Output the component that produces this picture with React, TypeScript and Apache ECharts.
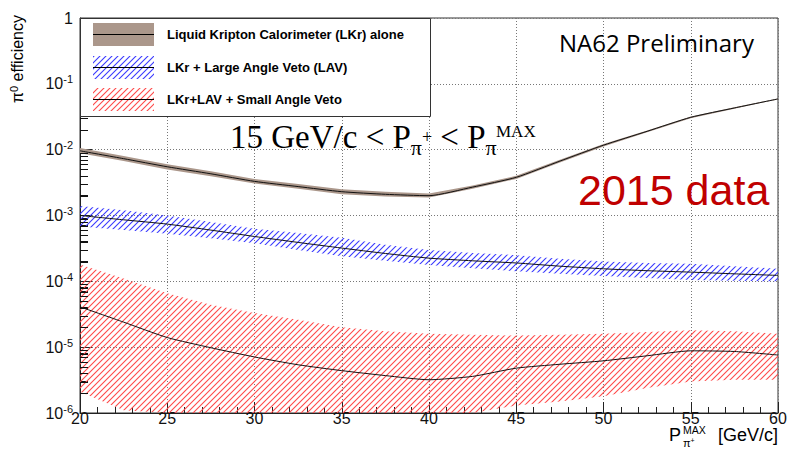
import React, { useEffect, useRef } from "react";
import * as echarts from "echarts";

// P_pi^MAX [GeV/c]
const pMax = [20, 22.5, 25, 27.5, 30, 32.5, 35, 37.5, 40, 42.5, 45, 47.5, 50, 52.5, 55, 57.5, 60];

// Liquid Kripton Calorimeter (LKr) alone
const lkrCentral = [9.6e-3, 7.3e-3, 5.5e-3, 4.3e-3, 3.3e-3, 2.75e-3, 2.3e-3, 2.1e-3, 2.0e-3, 2.7e-3, 3.8e-3, 6.7e-3, 1.17e-2, 1.9e-2, 3.1e-2, 4.3e-2, 5.9e-2];
const lkrHigh = [1.06e-2, 8.0e-3, 6.0e-3, 4.7e-3, 3.6e-3, 3.0e-3, 2.5e-3, 2.3e-3, 2.15e-3, 2.85e-3, 4.0e-3, 7.0e-3, 1.22e-2, 1.96e-2, 3.2e-2, 4.4e-2, 6.0e-2];
const lkrLow = [8.8e-3, 6.7e-3, 5.0e-3, 3.95e-3, 3.05e-3, 2.55e-3, 2.1e-3, 1.95e-3, 1.88e-3, 2.55e-3, 3.6e-3, 6.4e-3, 1.12e-2, 1.84e-2, 3.0e-2, 4.2e-2, 5.8e-2];

// LKr + Large Angle Veto (LAV)
const lavCentral = [1.0e-3, 8.6e-4, 7.4e-4, 6.0e-4, 4.8e-4, 3.9e-4, 3.2e-4, 2.65e-4, 2.25e-4, 2.05e-4, 1.9e-4, 1.7e-4, 1.55e-4, 1.45e-4, 1.38e-4, 1.3e-4, 1.23e-4];
const lavHigh = [1.4e-3, 1.2e-3, 1.0e-3, 8.0e-4, 6.3e-4, 5.4e-4, 4.6e-4, 3.6e-4, 3.0e-4, 2.7e-4, 2.5e-4, 2.2e-4, 2.0e-4, 1.9e-4, 1.85e-4, 1.7e-4, 1.55e-4];
const lavLow = [6.8e-4, 6.0e-4, 5.3e-4, 4.5e-4, 3.8e-4, 3.0e-4, 2.4e-4, 2.05e-4, 1.77e-4, 1.58e-4, 1.42e-4, 1.3e-4, 1.2e-4, 1.12e-4, 1.05e-4, 1.02e-4, 1.0e-4];

// LKr+LAV + Small Angle Veto
const savCentral = [4.1e-5, 2.4e-5, 1.4e-5, 9.8e-6, 7.1e-6, 5.4e-6, 4.4e-6, 3.7e-6, 3.2e-6, 3.6e-6, 4.8e-6, 5.5e-6, 6.2e-6, 7.4e-6, 8.8e-6, 8.6e-6, 7.6e-6];
const savHigh = [1.8e-4, 1.1e-4, 6.6e-5, 4.4e-5, 3.3e-5, 2.6e-5, 2.0e-5, 1.75e-5, 1.6e-5, 1.55e-5, 1.5e-5, 1.55e-5, 1.6e-5, 1.7e-5, 1.8e-5, 1.75e-5, 1.6e-5];
const savLow = [2.1e-6, 1.1e-6, 7e-7, 5.5e-7, 4.5e-7, 4e-7, 3.5e-7, 3.5e-7, 4e-7, 7e-7, 1.3e-6, 1.5e-6, 1.8e-6, 2.4e-6, 3.0e-6, 3.2e-6, 3.2e-6];

const legendLabels = [
  "Liquid Kripton Calorimeter (LKr) alone",
  "LKr + Large Angle Veto (LAV)",
  "LKr+LAV + Small Angle Veto",
];

// log-axis minor tick positions: 2..9 x 10^d
const yMinorTicks: number[] = [];
for (let d = -6; d < 0; d++) {
  for (let k = 2; k <= 9; k++) yMinorTicks.push(parseFloat((k * Math.pow(10, d)).toPrecision(3)));
}

const SANS = "'Liberation Sans', Arial, Helvetica, sans-serif";
const SERIF = "'Liberation Serif', 'Times New Roman', serif";
const BROWN = "#ab978b";
const AXIS = "#222";

function makeHatch(color: string) {
  const s = 6;
  const c = document.createElement("canvas");
  c.width = s;
  c.height = s;
  const ctx = c.getContext("2d")!;
  ctx.strokeStyle = color;
  ctx.lineWidth = 1.1;
  ctx.beginPath();
  ctx.moveTo(0, s);
  ctx.lineTo(s, 0);
  ctx.moveTo(-1, 1);
  ctx.lineTo(1, -1);
  ctx.moveTo(s - 1, s + 1);
  ctx.lineTo(s + 1, s - 1);
  ctx.stroke();
  return { image: c, repeat: "repeat", imageWidth: s, imageHeight: s } as any;
}

function bandSeries(name: string, low: number[], high: number[], fill: any, z: number) {
  return {
    name,
    type: "custom",
    coordinateSystem: "cartesian2d",
    silent: true,
    z,
    encode: { x: 0, y: [1, 2] },
    data: pMax.map((x, i) => [x, low[i], high[i]]),
    renderItem: (params: any, api: any) => {
      if (params.dataIndexInside !== 0) return null;
      const n = params.dataInsideLength;
      const cs = params.coordSys;
      const top = cs.y;
      const bot = cs.y + cs.height;
      const clampY = (v: number) => Math.min(Math.max(v, top), bot);
      const upper: number[][] = [];
      const lower: number[][] = [];
      for (let j = 0; j < n; j++) {
        const x = api.value(0, j);
        const pLo = api.coord([x, api.value(1, j)]);
        const pHi = api.coord([x, api.value(2, j)]);
        upper.push([pHi[0], clampY(pHi[1])]);
        lower.push([pLo[0], clampY(pLo[1])]);
      }
      return {
        type: "polygon",
        shape: { points: upper.concat(lower.reverse()) },
        style: { fill, stroke: null },
      };
    },
  };
}

function lineSeries(name: string, values: number[]) {
  return {
    name,
    type: "line",
    z: 5,
    data: pMax.map((x, i) => [x, values[i]]),
    showSymbol: false,
    smooth: 0.2,
    lineStyle: { color: "#111", width: 1 },
    silent: true,
  };
}

export default function App() {
  const ref = useRef<HTMLDivElement>(null);

  useEffect(() => {
    if (!ref.current) return;
    const chart = echarts.init(ref.current, null, { renderer: "svg" });
    const redHatch = makeHatch("#ff4a4a");
    const blueHatch = makeHatch("#3a3aff");
    const redHatchL = makeHatch("#ff4a4a");
    const blueHatchL = makeHatch("#3a3aff");

    const gridLine = { show: true, lineStyle: { color: "#777", type: [1, 2], width: 1 } };

    const legendRows = [
      { y: 23, fill: BROWN, text: legendLabels[0] },
      { y: 56, fill: blueHatchL, text: legendLabels[1] },
      { y: 88, fill: redHatchL, text: legendLabels[2] },
    ];

    const legendEls: any[] = [
      {
        type: "rect",
        z: 100,
        shape: { x: 80.5, y: 18.5, width: 350, height: 98 },
        style: { fill: "#fff", stroke: "#333", lineWidth: 1 },
      },
    ];
    legendRows.forEach((r) => {
      legendEls.push({
        type: "rect",
        z: 101,
        shape: { x: 93, y: r.y, width: 61, height: 23 },
        style: { fill: r.fill },
      });
      legendEls.push({
        type: "line",
        z: 102,
        shape: { x1: 93, y1: r.y + 11.5, x2: 154, y2: r.y + 11.5 },
        style: { stroke: "#000", lineWidth: 1 },
      });
      legendEls.push({
        type: "text",
        z: 102,
        x: 167,
        y: r.y + 11.5,
        style: {
          text: r.text,
          fontFamily: SANS,
          fontWeight: "bold",
          fontSize: 13,
          fill: "#000",
          align: "left",
          verticalAlign: "middle",
        },
      });
    });

    const option: any = {
      animation: false,
      backgroundColor: "#fff",
      grid: {
        left: 80,
        right: 12,
        top: 18,
        bottom: 44,
        show: true,
        borderColor: "#333",
        borderWidth: 1,
        backgroundColor: "transparent",
      },
      xAxis: {
        type: "value",
        min: 20,
        max: 60,
        interval: 5,
        axisLine: { show: true, lineStyle: { color: AXIS } },
        axisTick: { show: true, inside: true, length: 11, lineStyle: { color: AXIS } },
        minorTick: { show: true, splitNumber: 5, length: 6, lineStyle: { color: AXIS } },
        splitLine: gridLine,
        axisLabel: { color: "#111", fontSize: 16, lineHeight: 11, fontFamily: SANS, margin: 0 },
      },
      yAxis: [
        {
          type: "log",
          logBase: 10,
          min: 1e-6,
          max: 1,
          axisLine: { show: true, lineStyle: { color: AXIS } },
          axisTick: { show: true, inside: true, length: 12, lineStyle: { color: AXIS } },
          splitLine: gridLine,
          axisLabel: {
            color: "#111",
            fontSize: 16,
            lineHeight: 20,
            fontFamily: SANS,
            margin: 7,
            formatter: (v: number) => {
              const e = Math.round(Math.log10(v));
              return e === 0 ? "1" : "10{sup|" + e + "}";
            },
            rich: {
              sup: { fontSize: 11, lineHeight: 11, verticalAlign: "top", fontFamily: SANS, color: "#111" },
            },
          },
        },
        {
          // helper axis carrying the logarithmic minor ticks
          type: "log",
          logBase: 10,
          min: 1e-6,
          max: 1,
          position: "left",
          axisLine: { show: false },
          splitLine: { show: false },
          axisTick: {
            show: true,
            inside: true,
            length: 8,
            customValues: yMinorTicks,
            lineStyle: { color: "#111" },
          },
          axisLabel: { show: true, customValues: yMinorTicks, formatter: () => "" },
        },
      ],
      series: [
        bandSeries("sav band", savLow, savHigh, redHatch, 1),
        bandSeries("lav band", lavLow, lavHigh, blueHatch, 2),
        bandSeries("lkr band", lkrLow, lkrHigh, BROWN, 3),
        lineSeries(legendLabels[2], savCentral),
        lineSeries(legendLabels[1], lavCentral),
        lineSeries(legendLabels[0], lkrCentral),
        {
          // minor ticks of the logarithmic y axis (drawn through the axis scale)
          name: "y minor ticks",
          type: "custom",
          coordinateSystem: "cartesian2d",
          silent: true,
          z: 20,
          encode: { x: 0, y: 1 },
          data: yMinorTicks.map((v) => [pMax[0], v]),
          renderItem: (params: any, api: any) => {
            const p = api.coord([api.value(0), api.value(1)]);
            const y = Math.round(p[1]) + 0.5;
            return {
              type: "line",
              shape: { x1: p[0], y1: y, x2: p[0] + 8, y2: y },
              style: { stroke: "#111", lineWidth: 1 },
            };
          },
        },
      ],
      graphic: [
        ...legendEls,
        {
          type: "text",
          z: 50,
          x: 559,
          y: 42,
          style: {
            text: "NA62 Preliminary",
            fontFamily: "'Open Sans', 'Noto Sans', sans-serif",
            fontSize: 24,
            fill: "#000",
            align: "left",
            verticalAlign: "middle",
          },
        },
        {
          type: "text",
          z: 50,
          x: 578,
          y: 190,
          style: {
            text: "2015 data",
            fontFamily: SANS,
            fontSize: 43,
            fill: "#c00000",
            align: "left",
            verticalAlign: "middle",
          },
        },
        {
          type: "text",
          z: 50,
          x: 230,
          y: 115,
          style: {
            text: "15 GeV/c < P{sub|π}{pl|+} < P{sub|π}",
            fontFamily: SERIF,
            fontSize: 33,
            lineHeight: 43,
            fill: "#000",
            align: "left",
            verticalAlign: "top",
            rich: {
              sub: { fontFamily: SERIF, fontSize: 22, lineHeight: 22, verticalAlign: "bottom", fill: "#000" },
              pl: { fontFamily: SERIF, fontSize: 18, lineHeight: 18, verticalAlign: "middle", fill: "#000" },
            },
          },
        },
        {
          type: "text",
          z: 50,
          x: 496,
          y: 131,
          style: {
            text: "MAX",
            fontFamily: SERIF,
            fontSize: 17,
            fill: "#000",
            align: "left",
            verticalAlign: "middle",
          },
        },
        // x-axis title
        {
          type: "text",
          x: 669,
          y: 435,
          style: { text: "P", fontFamily: SANS, fontSize: 18, fill: "#000", align: "left", verticalAlign: "middle" },
        },
        {
          type: "text",
          x: 683,
          y: 430,
          style: { text: "MAX", fontFamily: SANS, fontSize: 10.5, lineHeight: 10, fill: "#000", align: "left", verticalAlign: "middle" },
        },
        {
          type: "text",
          x: 683,
          y: 443,
          style: {
            text: "π{s|+}",
            fontFamily: SANS,
            fontSize: 11,
            lineHeight: 12,
            fill: "#000",
            align: "left",
            verticalAlign: "middle",
            rich: { s: { fontFamily: SANS, fontSize: 7, lineHeight: 7, verticalAlign: "top", fill: "#000" } },
          },
        },
        {
          type: "text",
          x: 778,
          y: 435,
          style: { text: "[GeV/c]", fontFamily: SANS, fontSize: 18, lineHeight: 16, fill: "#000", align: "right", verticalAlign: "middle" },
        },
        // y-axis title
        {
          type: "text",
          x: 17,
          y: 103,
          rotation: Math.PI / 2,
          style: {
            text: "π{sup|0} efficiency",
            fontFamily: SANS,
            fontSize: 16,
            lineHeight: 18,
            fill: "#000",
            align: "left",
            verticalAlign: "middle",
            rich: { sup: { fontFamily: SANS, fontSize: 11, lineHeight: 11, verticalAlign: "top", fill: "#000" } },
          },
        },
      ],
    };

    chart.setOption(option);
    return () => chart.dispose();
  }, []);

  return (
    <div
      ref={ref}
      style={{ position: "fixed", left: 0, top: 0, width: 790, height: 457, background: "#fff" }}
    />
  );
}
